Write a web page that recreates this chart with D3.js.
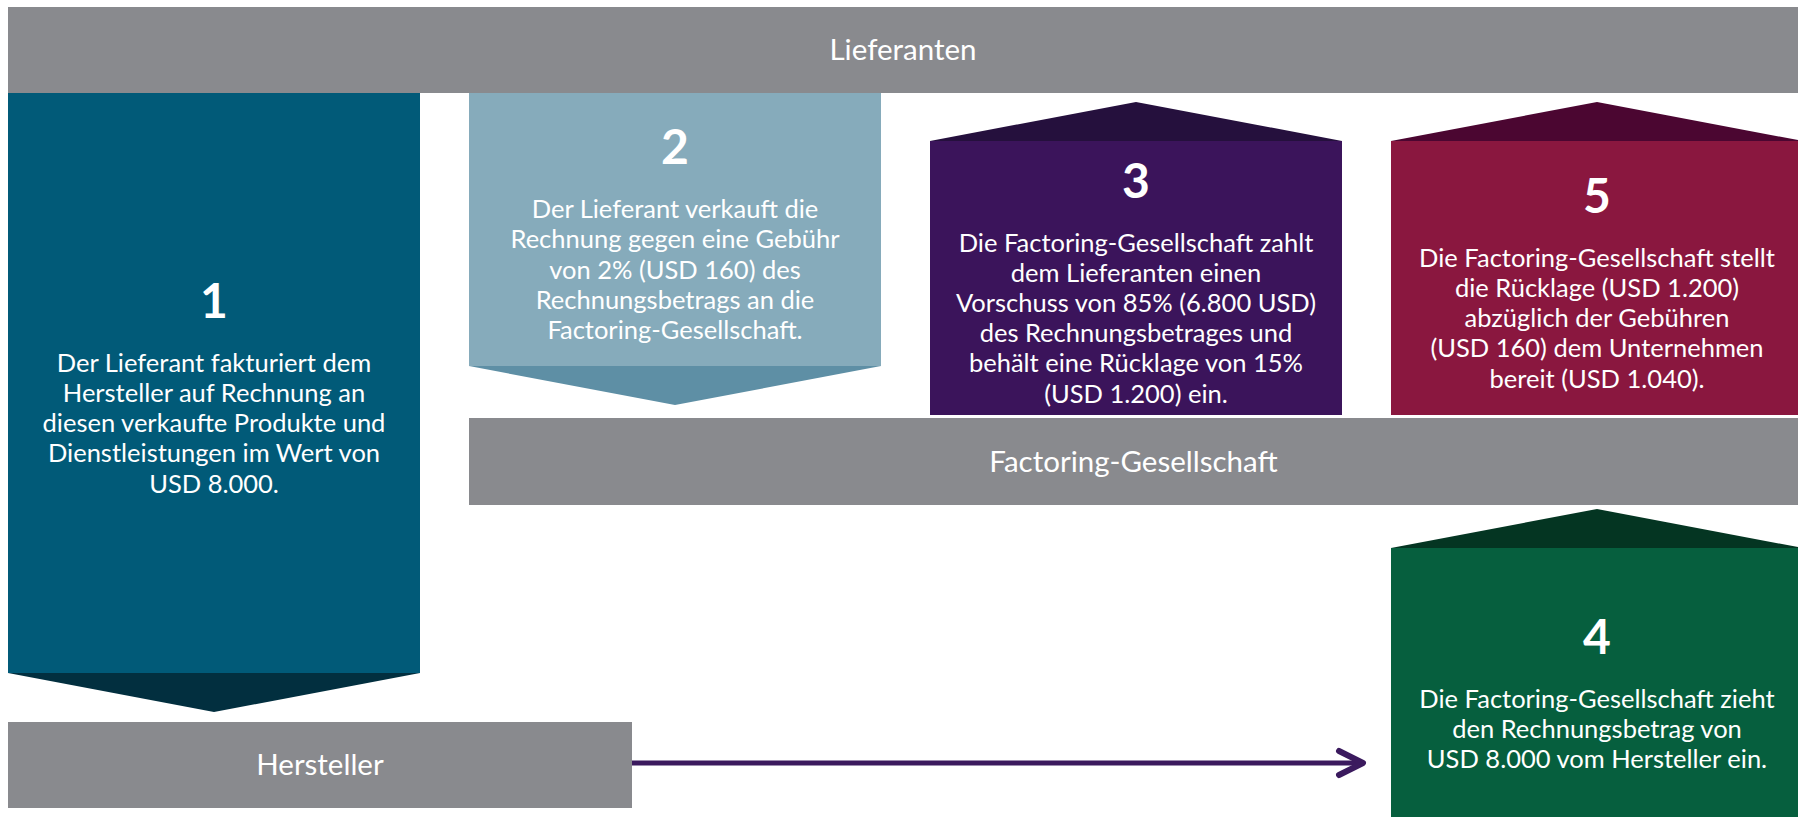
<!DOCTYPE html>
<meta charset="utf-8">
<style>
  body { margin: 0; background: #fff; }
  svg { display: block; font-family: Lato, "Open Sans", sans-serif; }
</style>
<body>
<svg width="1798" height="817"></svg>

<script src="https://cdn.jsdelivr.net/npm/d3@7/dist/d3.min.js"></script>
<script>

// Diagram content
var partyNames   = ["Lieferanten", "Factoring-Gesellschaft", "Hersteller"];
var stepNumbers  = ["1", "2", "3", "5", "4"];
var stepColumns  = [0, 1, 2, 3, 3];
var stepPointing = ["down", "down", "up", "up", "up"];
var stepTexts = [
  ["Der Lieferant fakturiert dem", "Hersteller auf Rechnung an", "diesen verkaufte Produkte und", "Dienstleistungen im Wert von", "USD 8.000."],
  ["Der Lieferant verkauft die", "Rechnung gegen eine Gebühr", "von 2% (USD 160) des", "Rechnungsbetrags an die", "Factoring-Gesellschaft."],
  ["Die Factoring-Gesellschaft zahlt", "dem Lieferanten einen", "Vorschuss von 85% (6.800 USD)", "des Rechnungsbetrages und", "behält eine Rücklage von 15%", "(USD 1.200) ein."],
  ["Die Factoring-Gesellschaft stellt", "die Rücklage (USD 1.200)", "abzüglich der Gebühren", "(USD 160) dem Unternehmen", "bereit (USD 1.040)."],
  ["Die Factoring-Gesellschaft zieht", "den Rechnungsbetrag von", "USD 8.000 vom Hersteller ein."]
];
var stepFill  = ["#015a78", "#86abbb", "#3b145b", "#8a173f", "#065f3e"];
var stepShade = ["#022f3f", "#5e8fa5", "#25103d", "#4b0631", "#043522"];

var svg = d3.select("svg"),
    W = +svg.attr("width"),
    H = +svg.attr("height");

// column positions (4 equal columns)
var col = d3.scaleLinear().domain([0, 4]).range([8, 8 + 4 * 461]);
var colW = 412;

// vertical layout
var y = d3.scaleLinear().domain([0, H]).range([0, H]);
var bars = [
  {name: partyNames[0], x0: col(0), x1: W + 10, y0: y(7),   y1: y(93)},
  {name: partyNames[1], x0: col(1), x1: W + 10, y0: y(418), y1: y(505)},
  {name: partyNames[2], x0: col(0), x1: col(1) + 163, y0: y(722), y1: y(808)}
];

// rect box extents per step
var boxes = stepNumbers.map(function(n, i) {
  var b = {};
  if (i == 0)      { b.top = 93;  b.bottom = 673; b.tip = 712; }
  else if (i == 1) { b.top = 93;  b.bottom = 366; b.tip = 405; }
  else if (i == 4) { b.top = 548; b.bottom = 840; b.tip = 509; }
  else             { b.top = 141; b.bottom = 415; b.tip = 102; }
  b.top = y(b.top); b.bottom = y(b.bottom); b.tip = y(b.tip);
  b.x0 = col(stepColumns[i]);
  b.x1 = b.x0 + colW;
  b.cx = b.x0 + colW / 2;
  b.down = stepPointing[i] == "down";
  return b;
});

// gray party bars
var barG = svg.selectAll("g.bar").data(bars).enter().append("g").attr("class", "bar");
barG.append("rect")
    .attr("x", function(d) { return d.x0; })
    .attr("y", function(d) { return d.y0; })
    .attr("width", function(d) { return d.x1 - d.x0; })
    .attr("height", function(d) { return d.y1 - d.y0; })
    .attr("fill", "#898a8e");
barG.append("text")
    .attr("x", function(d) { return (Math.min(d.x1, W) + d.x0) / 2; })
    .attr("y", function(d) { return (d.y0 + d.y1) / 2; })
    .attr("dy", "0.35em")
    .attr("text-anchor", "middle")
    .attr("fill", "#fff")
    .style("font-size", "29.5px")
    .text(function(d) { return d.name; });

// step boxes
var stepG = svg.selectAll("g.step").data(boxes).enter().append("g").attr("class", "step");

stepG.append("rect")
    .attr("x", function(d) { return d.x0; })
    .attr("y", function(d) { return d.top; })
    .attr("width", colW)
    .attr("height", function(d) { return d.bottom - d.top; })
    .attr("fill", function(d, i) { return stepFill[i]; });

stepG.append("path")
    .attr("d", function(d) {
      var base = d.down ? d.bottom : d.top;
      return "M" + d.x0 + "," + base + "L" + d.x1 + "," + base + "L" + d.cx + "," + d.tip + "Z";
    })
    .attr("fill", function(d, i) { return stepShade[i]; });

var lineH = 30.2, numGap = 62;
stepG.each(function(d, i) {
  var g = d3.select(this),
      lines = stepTexts[i],
      visBottom = Math.min(d.bottom, 830),
      blockH = numGap + (lines.length - 1) * lineH,
      top = (d.top + visBottom) / 2 + 9 - blockH / 2;

  g.append("text")
      .attr("x", d.cx)
      .attr("y", top)
      .attr("dy", "0.36em")
      .attr("text-anchor", "middle")
      .attr("fill", "#fff")
      .style("font-size", "48px")
      .style("font-weight", "bold")
      .text(stepNumbers[i]);

  g.selectAll("text.line").data(lines).enter().append("text")
      .attr("class", "line")
      .attr("x", d.cx)
      .attr("y", function(t, j) { return top + numGap + j * lineH; })
      .attr("dy", "0.36em")
      .attr("text-anchor", "middle")
      .attr("fill", "#fff")
      .style("font-size", "25.5px")
      .text(function(t) { return t; });
});

// arrow Hersteller -> step 4
var arrowY = (bars[2].y0 + bars[2].y1) / 2 - 2;
var arrowX0 = bars[2].x1, arrowX1 = boxes[4].x0 - 28;
svg.append("line")
    .attr("x1", arrowX0).attr("y1", arrowY)
    .attr("x2", arrowX1 - 2).attr("y2", arrowY)
    .attr("stroke", "#3b1a5e")
    .attr("stroke-width", 5);
svg.append("path")
    .attr("d", "M" + (arrowX1 - 24) + "," + (arrowY - 12) + "L" + arrowX1 + "," + arrowY + "L" + (arrowX1 - 24) + "," + (arrowY + 12))
    .attr("fill", "none")
    .attr("stroke", "#3b1a5e")
    .attr("stroke-width", 6)
    .attr("stroke-linecap", "round")
    .attr("stroke-linejoin", "round");

</script>
</body>
